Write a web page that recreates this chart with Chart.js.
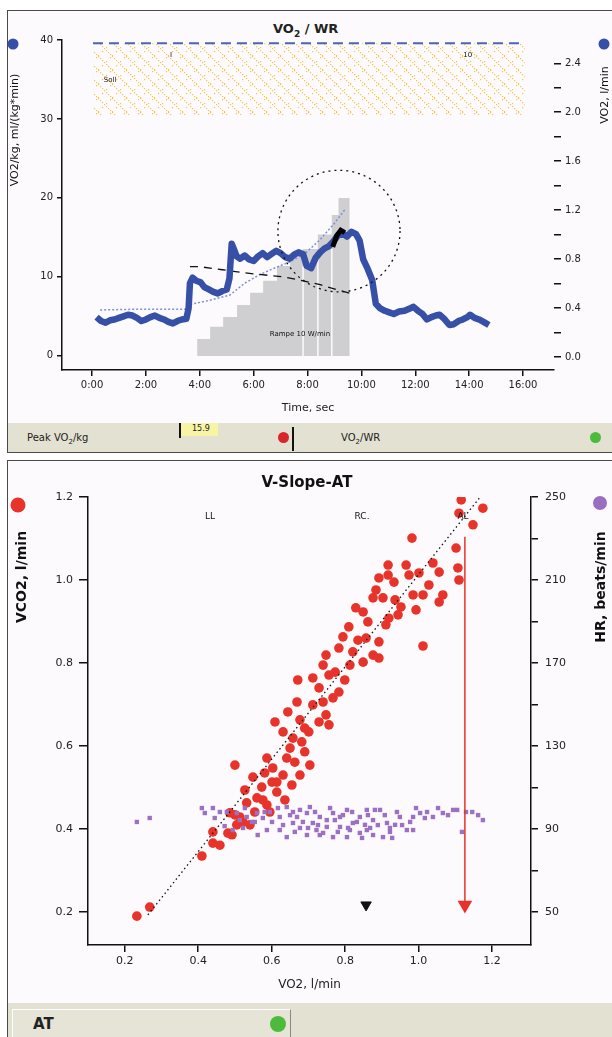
<!DOCTYPE html>
<html>
<head>
<meta charset="utf-8">
<script src="https://cdnjs.cloudflare.com/ajax/libs/Chart.js/4.4.1/chart.umd.min.js"></script>
<style>
  body { margin:0; width:612px; height:1037px; background:#fff; position:relative; overflow:hidden;
         font-family:"DejaVu Sans", Verdana, sans-serif; color:#222; }
  .panel { position:absolute; left:7px; width:610px; background:#fcfafc; border:1.5px solid #4a4a4a; box-sizing:border-box; }
  #p1 { top:10px; height:443px; }
  #p2 { top:460px; height:600px; }
  .bar { position:absolute; background:#e3e1d1; }
  canvas { position:absolute; left:0; }
  .t { position:absolute; white-space:nowrap; }
  .dot { position:absolute; border-radius:50%; }
</style>
</head>
<body>

<div class="panel" id="p1"></div>
<div class="bar" style="left:8px; top:423px; width:604px; height:29px;"></div>
<div style="position:absolute; left:180px; top:423px; width:38px; height:13px; background:#f7f4a6;"></div>
<div style="position:absolute; left:179px; top:423px; width:2px; height:15px; background:#111;"></div>
<div class="t" style="left:192px; top:424px; font-size:8px;">15.9</div>
<div class="t" style="left:27px; top:432px; font-size:10px;">Peak VO<sub style="font-size:7px">2</sub>/kg</div>
<div class="dot" style="left:278px; top:432px; width:11px; height:11px; background:#d9262a;"></div>
<div style="position:absolute; left:292px; top:427px; width:2px; height:24px; background:#111;"></div>
<div class="t" style="left:341px; top:432px; font-size:10px;">VO<sub style="font-size:7px">2</sub>/WR</div>
<div class="dot" style="left:590px; top:432px; width:11px; height:11px; background:#4cbb3c;"></div>
<div class="t" style="left:273px; top:21px; font-size:13px; font-weight:bold;">VO<sub style="font-size:9px">2</sub> / WR</div>

<canvas id="c1" width="612" height="422" style="top:0"></canvas>

<div class="panel" id="p2"></div>
<div class="bar" style="left:8px; top:1003px; width:604px; height:34px;"></div>
<div style="position:absolute; left:12px; top:1009px; width:279px; height:30px; background:#e6e4d6; border-top:1.5px solid #fff; border-left:1.5px solid #fff; border-right:1.5px solid #8a8a80; box-sizing:border-box;"></div>
<div class="t" style="left:33px; top:1015px; font-size:15px; font-weight:bold;">AT</div>
<div class="dot" style="left:270px; top:1016px; width:16px; height:16px; background:#4cbb3c;"></div>

<canvas id="c2" width="612" height="547" style="top:458px"></canvas>

<script>
// ---------- top chart: VO2 / WR ----------
var timeSec = [10,20,30,40,50,60,70,80,90,100,110,120,130,140,150,160,170,180,190,200,210,215,218,224,232,242,250,260,270,280,290,300,306,311,316,322,330,340,350,360,370,380,390,400,410,420,430,440,450,460,470,478,488,498,508,518,528,538,548,558,568,578,588,596,604,614,624,632,642,652,662,672,684,696,708,716,726,736,746,756,766,774,784,796,806,816,826,836,842,852,862,872,884];
var vo2kg = [4.9,4.4,4.2,4.5,4.6,4.8,5.0,5.2,5.1,4.8,4.4,4.6,4.9,5.1,4.8,4.6,4.3,4.1,4.4,4.6,4.7,6.0,9.2,9.9,9.5,9.3,8.7,8.4,8.1,7.9,8.2,8.4,9.8,14.2,13.5,12.6,12.3,12.7,12.2,12.0,12.6,13.0,12.5,12.9,13.3,13.0,12.5,12.3,12.8,13.1,12.9,11.4,11.1,12.4,13.1,13.6,13.9,14.5,15.3,15.5,15.1,15.7,15.4,14.6,12.2,11.0,9.6,6.6,6.0,5.7,5.5,5.3,5.6,5.7,6.0,6.2,5.7,5.3,4.6,4.9,5.1,5.2,4.7,3.9,4.0,4.4,4.6,4.9,5.2,4.8,4.6,4.3,3.9];

var predT = [18,100,207,218,260,307,340,374,410,441,475,508,540,563];
var predV = [5.8,5.9,5.9,6.5,7.0,7.7,9.2,10.3,11.2,11.9,13.0,14.7,16.8,18.5];

var refT = [218,238,290,340,425,470,508,581];
var refV = [11.3,11.3,10.9,10.5,10.0,9.5,9.0,7.8];

var peakT = [536,545,554,563];
var peakV = [13.8,15.2,15.9,15.6];

var wrT = [234,263,292,323,352,381,412,441,470,503,534,549,563,574,574];
var wrW = [2,7,12,16,21,26,31,37,41,44,50,58,65,65,0];
var wrGapT = [470,503,534];

var bandT = [2,964];
var bandTop = [39.6,39.6];
var bandBottom = [30.5,30.5];

var timeTicks = [0,120,240,360,480,600,720,840,960];
var kgTicks = [0,10,20,30,40];
var lminTicks = [0,0.2,0.4,0.6,0.8,1.0,1.2,1.4,1.6,1.8,2.0,2.2,2.4];

var ringCenter = [550, 15.8];
var ringRadius = [136, 7.7];

var topNotes = [["Soll", 40, 34.9], ["I", 176, 38.1], ["10", 837, 38.1], ["Rampe 10 W/min", 463, 2.7]];

// ---------- bottom chart: V-Slope ----------
var vo2Red = [0.233,0.268,0.410,0.440,0.440,0.481,0.492,0.505,0.522,0.532,0.560,0.573,0.576,0.601,0.500,0.513,0.486,0.500,0.549,0.581,0.587,0.614,0.631,0.641,0.650,0.603,0.614,0.587,0.671,0.669,0.644,0.609,0.631,0.658,0.682,0.701,0.729,0.748,0.756,0.712,0.740,0.767,0.729,0.783,0.712,0.756,0.740,0.748,0.821,0.849,0.783,0.794,0.810,0.857,0.892,0.876,0.892,1.012,0.829,0.849,0.919,0.911,0.876,0.903,0.884,0.952,0.985,1.012,1.066,1.056,1.028,0.974,1.001,1.039,1.056,1.107,1.110,0.933,0.892,0.917,0.917,0.966,0.982,1.116,1.175,1.148,1.110,0.663,0.677,0.690,0.704,0.655,0.636,0.595,0.690,0.677,0.773,0.799,0.813,0.835,0.862,0.936,0.944,0.993,1.102,0.527,0.554,0.459,0.541];
var vco2Red = [0.190,0.212,0.335,0.366,0.393,0.390,0.386,0.410,0.417,0.463,0.475,0.501,0.470,0.513,0.434,0.429,0.439,0.554,0.525,0.535,0.571,0.513,0.530,0.571,0.595,0.547,0.489,0.458,0.759,0.706,0.682,0.658,0.634,0.619,0.610,0.634,0.658,0.675,0.651,0.699,0.706,0.716,0.740,0.730,0.764,0.771,0.795,0.819,0.827,0.802,0.836,0.863,0.887,0.860,0.851,0.819,0.812,0.841,0.933,0.923,0.908,0.892,0.957,0.957,0.976,0.935,0.964,0.964,0.964,0.947,0.988,1.012,1.017,1.041,1.019,1.029,1.000,0.995,1.005,1.012,1.036,1.036,1.101,1.193,1.173,1.133,1.161,0.561,0.530,0.586,0.554,0.506,0.470,0.441,0.643,0.663,0.778,0.759,0.795,0.855,0.899,0.952,0.916,0.928,1.077,0.494,0.441,0.361,0.410];

var vo2Hr = [0.233,0.268,0.410,0.440,0.478,0.505,0.513,0.532,0.494,0.560,0.595,0.622,0.641,0.669,0.658,0.696,0.712,0.731,0.750,0.767,0.786,0.805,0.821,0.840,0.859,0.876,0.895,0.914,0.949,0.968,0.985,1.023,1.039,1.066,1.105,1.118,1.146,1.175,0.587,0.622,0.696,0.731,0.767,0.805,0.840,0.876,0.903,0.641,0.750,0.704,0.786,0.658,0.859,0.985,1.004,0.677,0.722,0.813,0.854,0.922,0.936,0.554,0.576,0.522,
  0.581,0.601,0.617,0.631,0.650,0.663,0.677,0.685,0.699,0.718,0.726,0.740,0.759,0.772,0.780,0.794,0.808,0.819,0.832,0.846,0.862,0.868,0.881,0.889,0.908,0.922,0.928,0.941,0.955,0.977,0.993,1.017,1.053,1.080,1.094,1.129,1.162,0.445,0.459,0.472,0.418,0.527,0.546,0.562];
var hr = [93.4,95.3,100.1,100.1,98.2,97.7,94.3,95.8,89.5,97.7,98.2,95.8,100.6,95.8,92.9,97.7,92.9,95.8,91.0,97.7,91.0,99.2,92.9,95.8,89.5,94.3,99.2,92.9,95.8,89.5,95.8,98.2,95.8,97.7,99.2,88.6,98.2,94.3,89.5,89.5,87.1,87.1,86.1,86.1,88.1,87.1,86.1,86.1,94.3,100.6,95.8,98.2,99.2,89.5,97.7,90.5,89.5,89.5,92.0,88.6,92.0,93.4,95.3,90.5,
  98.2,93.4,100.1,91.9,96.7,88.6,99.2,93.4,90.5,98.2,91.9,88.1,100.1,94.3,88.6,96.7,90.5,98.2,93.4,85.7,96.7,90.5,99.2,91.9,96.7,90.5,85.7,98.2,91.9,93.4,100.1,95.3,100.1,96.7,99.2,98.2,96.7,95.3,98.2,91.4,97.7,100.1,93.4,87.1];

var slopeVo2 = [0.263,1.165];
var slopeVco2 = [0.193,1.197];

var atVo2 = [1.126,1.126];
var atVco2 = [1.104,0.217];
var markVo2 = [0.857];
var markVco2 = [0.217];

var vo2Ticks = [0.2,0.4,0.6,0.8,1.0,1.2];
var vco2Ticks = [0.2,0.4,0.6,0.8,1.0,1.2];
var hrTicks = [50,70,90,110,130,150,170,190,210,230,250];

var bottomNotes = [["LL", 0.432, 1.152], ["RC.", 0.846, 1.152], ["AL", 1.121, 1.152]];

var F = '"DejaVu Sans", Verdana, sans-serif';

function pts(xs, ys) {
  return xs.map(function (x, i) { return {x: x, y: ys[i]}; });
}

function hatch() {
  var c = document.createElement('canvas');
  c.width = 14; c.height = 14;
  var g = c.getContext('2d');
  g.fillStyle = '#f6c64c';
  for (var i = 0; i < 14; i += 2) g.fillRect(i, i, 1.2, 1.2);
  for (var j = 1; j < 14; j += 4) g.fillRect(13 - j, j, 1.2, 1.2);
  return g.createPattern(c, 'repeat');
}

function sideTitle(ctx, text, x, y, size, bold) {
  ctx.save();
  ctx.translate(x, y);
  ctx.rotate(-Math.PI / 2);
  ctx.font = (bold ? 'bold ' : '') + size + 'px ' + F;
  ctx.fillStyle = '#111';
  ctx.textAlign = 'center';
  ctx.textBaseline = 'middle';
  ctx.fillText(text, 0, 0);
  ctx.restore();
}

function dot(ctx, x, y, r, color) {
  ctx.save();
  ctx.fillStyle = color;
  ctx.beginPath();
  ctx.arc(x, y, r, 0, Math.PI * 2);
  ctx.fill();
  ctx.restore();
}

var topDecor = {
  id: 'topDecor',
  afterDatasetDraw: function (chart, args) {
    if (args.index !== 4) return;
    // white separators between the last work-rate steps
    var ctx = chart.ctx, x = chart.scales.x, w = chart.scales.yWR;
    ctx.save();
    ctx.strokeStyle = '#fcfafc';
    ctx.lineWidth = 1.5;
    wrGapT.forEach(function (t) {
      var k = wrT.indexOf(t);
      var px = x.getPixelForValue(t);
      ctx.beginPath();
      ctx.moveTo(px, w.getPixelForValue(0));
      ctx.lineTo(px, w.getPixelForValue(wrW[k - 1]));
      ctx.stroke();
    });
    ctx.restore();
  },
  afterDatasetsDraw: function (chart) {
    var ctx = chart.ctx, x = chart.scales.x, y = chart.scales.y;
    var cx = x.getPixelForValue(ringCenter[0]), cy = y.getPixelForValue(ringCenter[1]);
    var rx = x.getPixelForValue(ringCenter[0] + ringRadius[0]) - cx;
    var ry = cy - y.getPixelForValue(ringCenter[1] + ringRadius[1]);
    ctx.save();
    ctx.setLineDash([2, 4]);
    ctx.strokeStyle = '#111';
    ctx.lineWidth = 1.3;
    ctx.beginPath();
    ctx.ellipse(cx, cy, rx, ry, 0, 0, Math.PI * 2);
    ctx.stroke();
    ctx.restore();

    ctx.save();
    ctx.fillStyle = '#111';
    ctx.textAlign = 'center';
    ctx.textBaseline = 'middle';
    ctx.font = '7px ' + F;
    topNotes.forEach(function (n) {
      ctx.fillText(n[0], x.getPixelForValue(n[1]), y.getPixelForValue(n[2]));
    });
    ctx.restore();
  },
  afterDraw: function (chart) {
    var ctx = chart.ctx;
    sideTitle(ctx, 'VO2/kg, ml/(kg*min)', 15, 130, 11, false);
    sideTitle(ctx, 'VO2, l/min', 605, 95, 11, false);
    dot(ctx, 13, 44, 5.5, '#3550a6');
    dot(ctx, 604, 44, 5.5, '#3550a6');
  }
};

var axisFont = {size: 10, family: F};

new Chart(document.getElementById('c1'), {
  type: 'line',
  data: {
    datasets: [
      {data: pts(peakT, peakV), borderColor: '#000', borderWidth: 5, pointRadius: 0},
      {data: pts(timeSec, vo2kg), borderColor: '#3550a6', borderWidth: 6.5, pointRadius: 0, borderJoinStyle: 'round'},
      {data: pts(refT, refV), borderColor: '#111', borderWidth: 1.3, borderDash: [8, 6], pointRadius: 0},
      {data: pts(predT, predV), borderColor: '#7d8fd8', borderWidth: 1.5, borderDash: [2, 2], pointRadius: 0},
      {data: pts(wrT, wrW), yAxisID: 'yWR', stepped: 'after', borderWidth: 0, borderColor: 'rgba(0,0,0,0)',
       backgroundColor: '#cfcfd1', fill: 'origin', pointRadius: 0},
      {data: pts(bandT, bandTop), borderColor: '#4a66b8', borderWidth: 2, borderDash: [10, 6],
       fill: '+1', backgroundColor: hatch(), pointRadius: 0},
      {data: pts(bandT, bandBottom), borderWidth: 0, borderColor: 'rgba(0,0,0,0)', pointRadius: 0, fill: false}
    ]
  },
  options: {
    responsive: false,
    animation: false,
    devicePixelRatio: 1,
    events: [],
    layout: {padding: {top: 40, left: 0, right: 0, bottom: 0}},
    plugins: {legend: {display: false}, tooltip: {enabled: false}},
    scales: {
      x: {
        type: 'linear', min: -67, max: 1029,
        afterFit: function (s) { s.height = 52; },
        afterBuildTicks: function (s) { s.ticks = timeTicks.map(function (v) { return {value: v}; }); },
        ticks: {callback: function (v) { return (v / 60) + ':00'; }, color: '#222', font: axisFont,
                padding: 3, maxRotation: 0, autoSkip: false},
        grid: {drawOnChartArea: false, tickLength: 6, color: '#111', lineWidth: 1.5},
        border: {color: '#111', width: 1.5},
        title: {display: true, text: 'Time, sec', color: '#222', font: {size: 11, family: F}, padding: {top: 0, bottom: 7}}
      },
      y: {
        position: 'left', min: -1.8, max: 40,
        afterFit: function (s) { s.width = 62; },
        afterBuildTicks: function (s) { s.ticks = kgTicks.map(function (v) { return {value: v}; }); },
        ticks: {color: '#222', font: axisFont, padding: 4},
        grid: {drawOnChartArea: false, tickLength: 5, color: '#111', lineWidth: 1.5},
        border: {color: '#111', width: 1.5}
      },
      y2: {
        position: 'right', min: -0.106, max: 2.59,
        afterFit: function (s) { s.width = 58; },
        afterBuildTicks: function (s) { s.ticks = lminTicks.map(function (v) { return {value: v}; }); },
        ticks: {callback: function (v) { return Math.round(v * 10) % 4 === 0 ? v.toFixed(1) : ''; },
                color: '#222', font: axisFont, padding: 4, autoSkip: false},
        grid: {drawOnChartArea: false, tickLength: 7, color: '#111', lineWidth: 1.5},
        border: {display: false}
      },
      yWR: {display: false, min: -5.76, max: 130}
    }
  },
  plugins: [topDecor]
});

var bottomDecor = {
  id: 'bottomDecor',
  afterDatasetsDraw: function (chart) {
    var ctx = chart.ctx, x = chart.scales.x, y = chart.scales.y;
    ctx.save();
    ctx.fillStyle = '#111';
    ctx.font = '9px ' + F;
    ctx.textAlign = 'center';
    ctx.textBaseline = 'middle';
    bottomNotes.forEach(function (n) {
      ctx.fillText(n[0], x.getPixelForValue(n[1]), y.getPixelForValue(n[2]));
    });
    ctx.restore();
  },
  afterDraw: function (chart) {
    var ctx = chart.ctx;
    ctx.save();
    ctx.font = 'bold 15px ' + F;
    ctx.fillStyle = '#111';
    ctx.textAlign = 'center';
    ctx.textBaseline = 'middle';
    ctx.fillText('V-Slope-AT', 307, 25);
    ctx.restore();
    sideTitle(ctx, 'VCO2, l/min', 22, 119, 14, true);
    sideTitle(ctx, 'HR, beats/min', 601, 129, 14, true);
    dot(ctx, 18, 47, 7.5, '#e8332a');
    dot(ctx, 600, 45, 7, '#9a6fbf');
  }
};

var tickFont2 = {size: 11, family: F};

new Chart(document.getElementById('c2'), {
  type: 'scatter',
  data: {
    datasets: [
      {data: pts(markVo2, markVco2), pointStyle: 'triangle', pointRotation: 180, pointRadius: 6,
       backgroundColor: '#111', borderColor: '#111'},
      {data: pts(atVo2, atVco2), showLine: true, borderColor: '#e8332a', borderWidth: 1.5,
       pointStyle: 'triangle', pointRotation: 180, pointRadius: [0, 7], backgroundColor: '#e8332a', pointBorderColor: '#e8332a'},
      {data: pts(slopeVo2, slopeVco2), showLine: true, borderColor: '#111', borderWidth: 1.3, borderDash: [1.5, 3], pointRadius: 0},
      {data: pts(vo2Hr, hr), yAxisID: 'yHR', pointStyle: 'rect', pointRadius: 3.1,
       backgroundColor: '#9c70c2', borderColor: '#9c70c2', borderWidth: 0},
      {data: pts(vo2Red, vco2Red), pointRadius: 4.8, backgroundColor: '#e8332a', borderColor: '#e8332a', borderWidth: 0}
    ]
  },
  options: {
    responsive: false,
    animation: false,
    devicePixelRatio: 1,
    events: [],
    layout: {padding: {top: 39, left: 0, right: 0, bottom: 0}},
    plugins: {legend: {display: false}, tooltip: {enabled: false}},
    scales: {
      x: {
        type: 'linear', min: 0.1, max: 1.306,
        afterFit: function (s) { s.height = 60; },
        afterBuildTicks: function (s) { s.ticks = vo2Ticks.map(function (v) { return {value: v}; }); },
        ticks: {callback: function (v) { return v.toFixed(1); }, color: '#222', font: tickFont2,
                padding: 3, maxRotation: 0, autoSkip: false},
        grid: {drawOnChartArea: false, tickLength: 7, color: '#111', lineWidth: 1.5},
        border: {color: '#111', width: 1.5},
        title: {display: true, text: 'VO2, l/min', color: '#222', font: {size: 12, family: F}, padding: {top: 0, bottom: 13}}
      },
      y: {
        position: 'left', min: 0.1205, max: 1.2,
        afterFit: function (s) { s.width = 88; },
        afterBuildTicks: function (s) { s.ticks = vco2Ticks.map(function (v) { return {value: v}; }); },
        ticks: {callback: function (v) { return v.toFixed(1); }, color: '#222', font: tickFont2, padding: 6},
        grid: {drawOnChartArea: false, tickLength: 9, color: '#111', lineWidth: 1.5},
        border: {color: '#111', width: 1.5}
      },
      yHR: {
        position: 'right', min: 34.1, max: 250,
        afterFit: function (s) { s.width = 81; },
        afterBuildTicks: function (s) { s.ticks = hrTicks.map(function (v) { return {value: v}; }); },
        ticks: {callback: function (v) { return (v - 50) % 40 === 0 ? v : ''; }, color: '#222', font: tickFont2,
                padding: 7, autoSkip: false},
        grid: {drawOnChartArea: false, tickLength: 7, color: '#111', lineWidth: 1.5},
        border: {color: '#111', width: 1.5}
      }
    }
  },
  plugins: [bottomDecor]
});
</script>

</body>
</html>
